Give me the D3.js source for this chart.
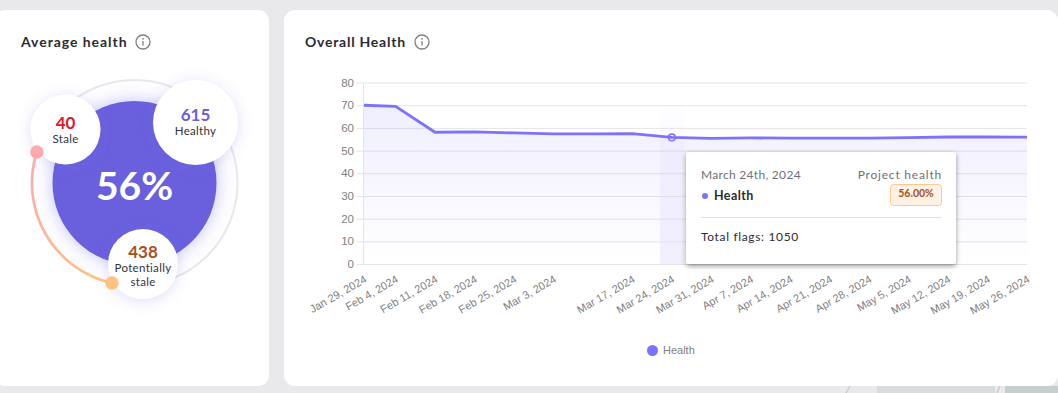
<!DOCTYPE html>
<html>
<head>
<meta charset="utf-8">
<script src="https://cdn.jsdelivr.net/npm/d3@7"></script>
<style>
  html, body { margin: 0; padding: 0; background: #e9e9eb; overflow: hidden; }
  svg { display: block; }
  .ui { font-family: Lato, "Noto Sans", sans-serif; }
  .chart { font-family: "Liberation Sans", Arial, sans-serif; }
</style>
</head>
<body>
<svg id="chart" width="1058" height="393"></svg>
<script>
// health over time
var dates = ["2024-01-29", "2024-02-04", "2024-02-11", "2024-02-18", "2024-02-25", "2024-03-03", "2024-03-10",
  "2024-03-17", "2024-03-24", "2024-03-31", "2024-04-07", "2024-04-14", "2024-04-21", "2024-04-28", "2024-05-05",
  "2024-05-12", "2024-05-19", "2024-05-26"];
var health = [70.2, 69.7, 58.3, 58.5, 58.0, 57.6, 57.6, 57.7, 56.0, 55.6, 55.8, 55.7, 55.7, 55.7, 55.9, 56.2, 56.2, 56.1];
var yTicks = [0, 10, 20, 30, 40, 50, 60, 70, 80];
// no label at this date in the reference
var hiddenLabels = ["2024-03-10"];

var gaugeLabels = ["Healthy", "Stale", "Potentially stale"];
var gaugeValues = [615, 40, 438];
var gaugePercent = "56%";

var parse = d3.utcParse("%Y-%m-%d");
var fmt = d3.utcFormat("%b %-d, %Y");

var svg = d3.select("#chart");
var defs = svg.append("defs");

// shadows
function shadow(id, dy, blur, color, op) {
  var f = defs.append("filter").attr("id", id)
    .attr("x", "-40%").attr("y", "-40%").attr("width", "180%").attr("height", "180%");
  f.append("feDropShadow").attr("dx", 0).attr("dy", dy).attr("stdDeviation", blur)
    .attr("flood-color", color).attr("flood-opacity", op);
}
shadow("bubbleShadow", 2, 7, "#6c63e0", 0.22);
shadow("coreShadow", 0, 9, "#6c5fe8", 0.4);
shadow("tipShadow", 2, 2.5, "#000", 0.42);

var areaGrad = defs.append("linearGradient").attr("id", "areaGrad")
  .attr("x1", 0).attr("x2", 0).attr("y1", 0).attr("y2", 1);
areaGrad.append("stop").attr("offset", "0%").attr("stop-color", "#7d72fb").attr("stop-opacity", 0.12);
areaGrad.append("stop").attr("offset", "100%").attr("stop-color", "#7d72fb").attr("stop-opacity", 0.0);

var bandGrad = defs.append("linearGradient").attr("id", "bandGrad")
  .attr("x1", 0).attr("x2", 0).attr("y1", 0).attr("y2", 1);
bandGrad.append("stop").attr("offset", "0%").attr("stop-color", "#7d72fb").attr("stop-opacity", 0.0);
bandGrad.append("stop").attr("offset", "35%").attr("stop-color", "#7d72fb").attr("stop-opacity", 0.05);
bandGrad.append("stop").attr("offset", "100%").attr("stop-color", "#7d72fb").attr("stop-opacity", 0.11);

// photo behind the cards, only a strip shows at the bottom
var photo = svg.append("g");
photo.append("rect").attr("x", 877).attr("y", 386).attr("width", 118).attr("height", 7).attr("fill", "#d8dcdc");
photo.append("rect").attr("x", 1005).attr("y", 386).attr("width", 53).attr("height", 7).attr("fill", "#c4cfd0");
photo.append("path").attr("d", "M850,386L846,393M1000,386L997,393").attr("stroke", "#c4cfd0").attr("stroke-width", 1.5);

// cards
var cards = svg.append("g");
cards.append("rect").attr("x", -6).attr("y", 10).attr("width", 275).attr("height", 376).attr("rx", 11).attr("fill", "#fff");
cards.append("rect").attr("x", 284).attr("y", 10).attr("width", 774).attr("height", 376).attr("rx", 11).attr("fill", "#fff");

function title(x, text, iconX, spacing) {
  svg.append("text").attr("class", "ui").attr("x", x).attr("y", 47)
    .attr("font-size", 14).attr("font-weight", 700).attr("letter-spacing", spacing).attr("fill", "#2b2b33").text(text);
  var ic = svg.append("g").attr("transform", "translate(" + iconX + ",42)");
  ic.append("circle").attr("r", 7).attr("fill", "none").attr("stroke", "#7f7f86").attr("stroke-width", 1.3);
  ic.append("rect").attr("x", -0.65).attr("y", -1).attr("width", 1.3).attr("height", 4.6).attr("fill", "#7f7f86");
  ic.append("circle").attr("cy", -3.2).attr("r", 0.9).attr("fill", "#7f7f86");
}
title(21, "Average health", 143, 0.95);
title(305, "Overall Health", 422, 0.75);

// ---- gauge ----
var cx = 134.5, cy = 183, ringR = 102.5;
var arcStart = -2.92, arcEnd = -1.263; // potentially stale end, stale end

// gradient runs in the arc's own coordinates, centred on the ring
var arcGrad = defs.append("linearGradient").attr("id", "arcGrad")
  .attr("gradientUnits", "userSpaceOnUse")
  .attr("x1", ringR * Math.sin(arcEnd)).attr("y1", -ringR * Math.cos(arcEnd))
  .attr("x2", ringR * Math.sin(arcStart)).attr("y2", -ringR * Math.cos(arcStart));
arcGrad.append("stop").attr("offset", "0%").attr("stop-color", "#ffa9ae");
arcGrad.append("stop").attr("offset", "100%").attr("stop-color", "#ffc27f");

var g = svg.append("g");
g.append("circle").attr("cx", cx).attr("cy", cy).attr("r", 103).attr("fill", "none").attr("stroke", "#e8e8ec").attr("stroke-width", 2);
g.append("circle").attr("cx", cx).attr("cy", cy).attr("r", 82).attr("fill", "#6a60de").attr("filter", "url(#coreShadow)");

function bubble(x, y, r, value, color, lines, valueY, size) {
  g.append("circle").attr("cx", x).attr("cy", y).attr("r", r).attr("fill", "#fff").attr("filter", "url(#bubbleShadow)");
  g.append("text").attr("class", "ui").attr("x", x).attr("y", y + valueY).attr("text-anchor", "middle")
    .attr("font-size", size).attr("font-weight", 700).attr("fill", color).text(value);
  lines.forEach(function (l, i) {
    g.append("text").attr("class", "ui").attr("x", x).attr("y", y + valueY + 14 + i * 14).attr("text-anchor", "middle")
      .attr("font-size", 11.5).attr("letter-spacing", 0.3).attr("fill", "#33333a").text(l);
  });
}
g.append("text").attr("class", "ui").attr("x", cx).attr("y", 200).attr("text-anchor", "middle")
  .attr("font-size", 39).attr("font-weight", 700).attr("fill", "#fff").text(gaugePercent);
bubble(195.5, 122.5, 42.5, gaugeValues[0], "#6a60de", [gaugeLabels[0]], -1.5, 17);
bubble(65.5, 129.5, 35, gaugeValues[1], "#e0182d", [gaugeLabels[1]], -1, 17);
bubble(143, 264, 35, gaugeValues[2], "#a8501c", ["Potentially", "stale"], -6.5, 17);

var arc = d3.arc().innerRadius(ringR - 1.3).outerRadius(ringR + 1.3);
g.append("path").attr("transform", "translate(" + cx + "," + cy + ")")
  .attr("d", arc.startAngle(arcStart).endAngle(arcEnd)())
  .attr("fill", "url(#arcGrad)");
[[arcEnd, "#ffa9ae"], [arcStart, "#ffc27f"]].forEach(function (d) {
  g.append("circle").attr("cx", cx + ringR * Math.sin(d[0])).attr("cy", cy - ringR * Math.cos(d[0]))
    .attr("r", 6.7).attr("fill", d[1]);
});

// ---- line chart ----
var points = dates.map(function (d, i) { return { date: parse(d), value: health[i] }; });
// first interval is squeezed in the reference, so the scale has a joint at the second date
var x = d3.scaleUtc().domain([parse(dates[0]), parse(dates[1]), parse(dates[dates.length - 1])]).range([364, 395.6, 1027]);
var y = d3.scaleLinear().domain([0, 80]).range([264.5, 83]);

var c = svg.append("g").attr("class", "chart");

// highlighted week
var hover = points[8];
c.append("rect").attr("x", 660).attr("y", 100).attr("width", 24).attr("height", 164.5).attr("fill", "url(#bandGrad)");

c.append("g").selectAll("line").data(yTicks).enter().append("line")
  .attr("x1", 357).attr("x2", 1027)
  .attr("y1", function (d) { return y(d); }).attr("y2", function (d) { return y(d); })
  .attr("stroke", "#e4e3ea").attr("stroke-width", 1);
c.append("line").attr("x1", 363.5).attr("x2", 363.5).attr("y1", y(80)).attr("y2", y(0)).attr("stroke", "#e4e3ea");

c.append("g").selectAll("text").data(yTicks).enter().append("text")
  .attr("x", 354).attr("y", function (d) { return y(d) + 3.5; }).attr("text-anchor", "end")
  .attr("font-size", 11.5).attr("fill", "#808080").text(function (d) { return d; });

var area = d3.area().x(function (d) { return x(d.date); }).y0(y(0)).y1(function (d) { return y(d.value); });
var line = d3.line().x(function (d) { return x(d.date); }).y(function (d) { return y(d.value); });
c.append("path").datum(points).attr("d", area).attr("fill", "url(#areaGrad)");
c.append("path").datum(points).attr("d", line).attr("fill", "none").attr("stroke", "#7d72fb").attr("stroke-width", 2.8);

// rotated labels
c.append("g").selectAll("text")
  .data(dates.filter(function (d) { return hiddenLabels.indexOf(d) < 0; })).enter().append("text")
  .attr("text-anchor", "end").attr("font-size", 11).attr("fill", "#808080")
  .attr("transform", function (d) { return "translate(" + (x(parse(d)) + 3.5) + ",281.5) rotate(-30)"; })
  .text(function (d) { return fmt(parse(d)); });

// hovered point
c.append("circle").attr("cx", x(hover.date)).attr("cy", y(hover.value)).attr("r", 3.4)
  .attr("fill", "#7d72fb").attr("fill-opacity", 0.12).attr("stroke", "#7d72fb").attr("stroke-width", 1.4);

// legend
c.append("circle").attr("cx", 652.5).attr("cy", 350.5).attr("r", 5.5).attr("fill", "#7d72fb");
c.append("text").attr("x", 663).attr("y", 354).attr("font-size", 11).attr("fill", "#808080").text("Health");

// tooltip
var tip = svg.append("g").attr("class", "ui");
tip.append("rect").attr("x", 686).attr("y", 152).attr("width", 270).attr("height", 112).attr("rx", 3)
  .attr("fill", "#fff").attr("filter", "url(#tipShadow)");
tip.append("text").attr("x", 701).attr("y", 179).attr("font-size", 12).attr("letter-spacing", 0.3).attr("fill", "#707078").text("March 24th, 2024");
tip.append("text").attr("x", 942).attr("y", 179).attr("text-anchor", "end").attr("font-size", 12).attr("letter-spacing", 0.8).attr("fill", "#707078").text("Project health");
tip.append("circle").attr("cx", 705).attr("cy", 196).attr("r", 3).attr("fill", "#7d72fb");
tip.append("text").attr("x", 714).attr("y", 200).attr("font-size", 12.5).attr("font-weight", 700).attr("letter-spacing", 0.4).attr("fill", "#2b2b33").text("Health");
tip.append("rect").attr("x", 890.5).attr("y", 184.5).attr("width", 51).attr("height", 21).attr("rx", 3)
  .attr("fill", "#fff1e3").attr("stroke", "#ffc98e");
tip.append("text").attr("x", 916).attr("y", 197).attr("text-anchor", "middle").attr("font-size", 10.5).attr("font-weight", 700).attr("fill", "#a8501c").text("56.00%");
tip.append("line").attr("x1", 701).attr("x2", 942).attr("y1", 217.5).attr("y2", 217.5).attr("stroke", "#e3e3e6");
tip.append("text").attr("x", 701).attr("y", 241).attr("font-size", 12).attr("letter-spacing", 0.65).attr("fill", "#2b2b33").text("Total flags: 1050");
</script>
</body>
</html>
